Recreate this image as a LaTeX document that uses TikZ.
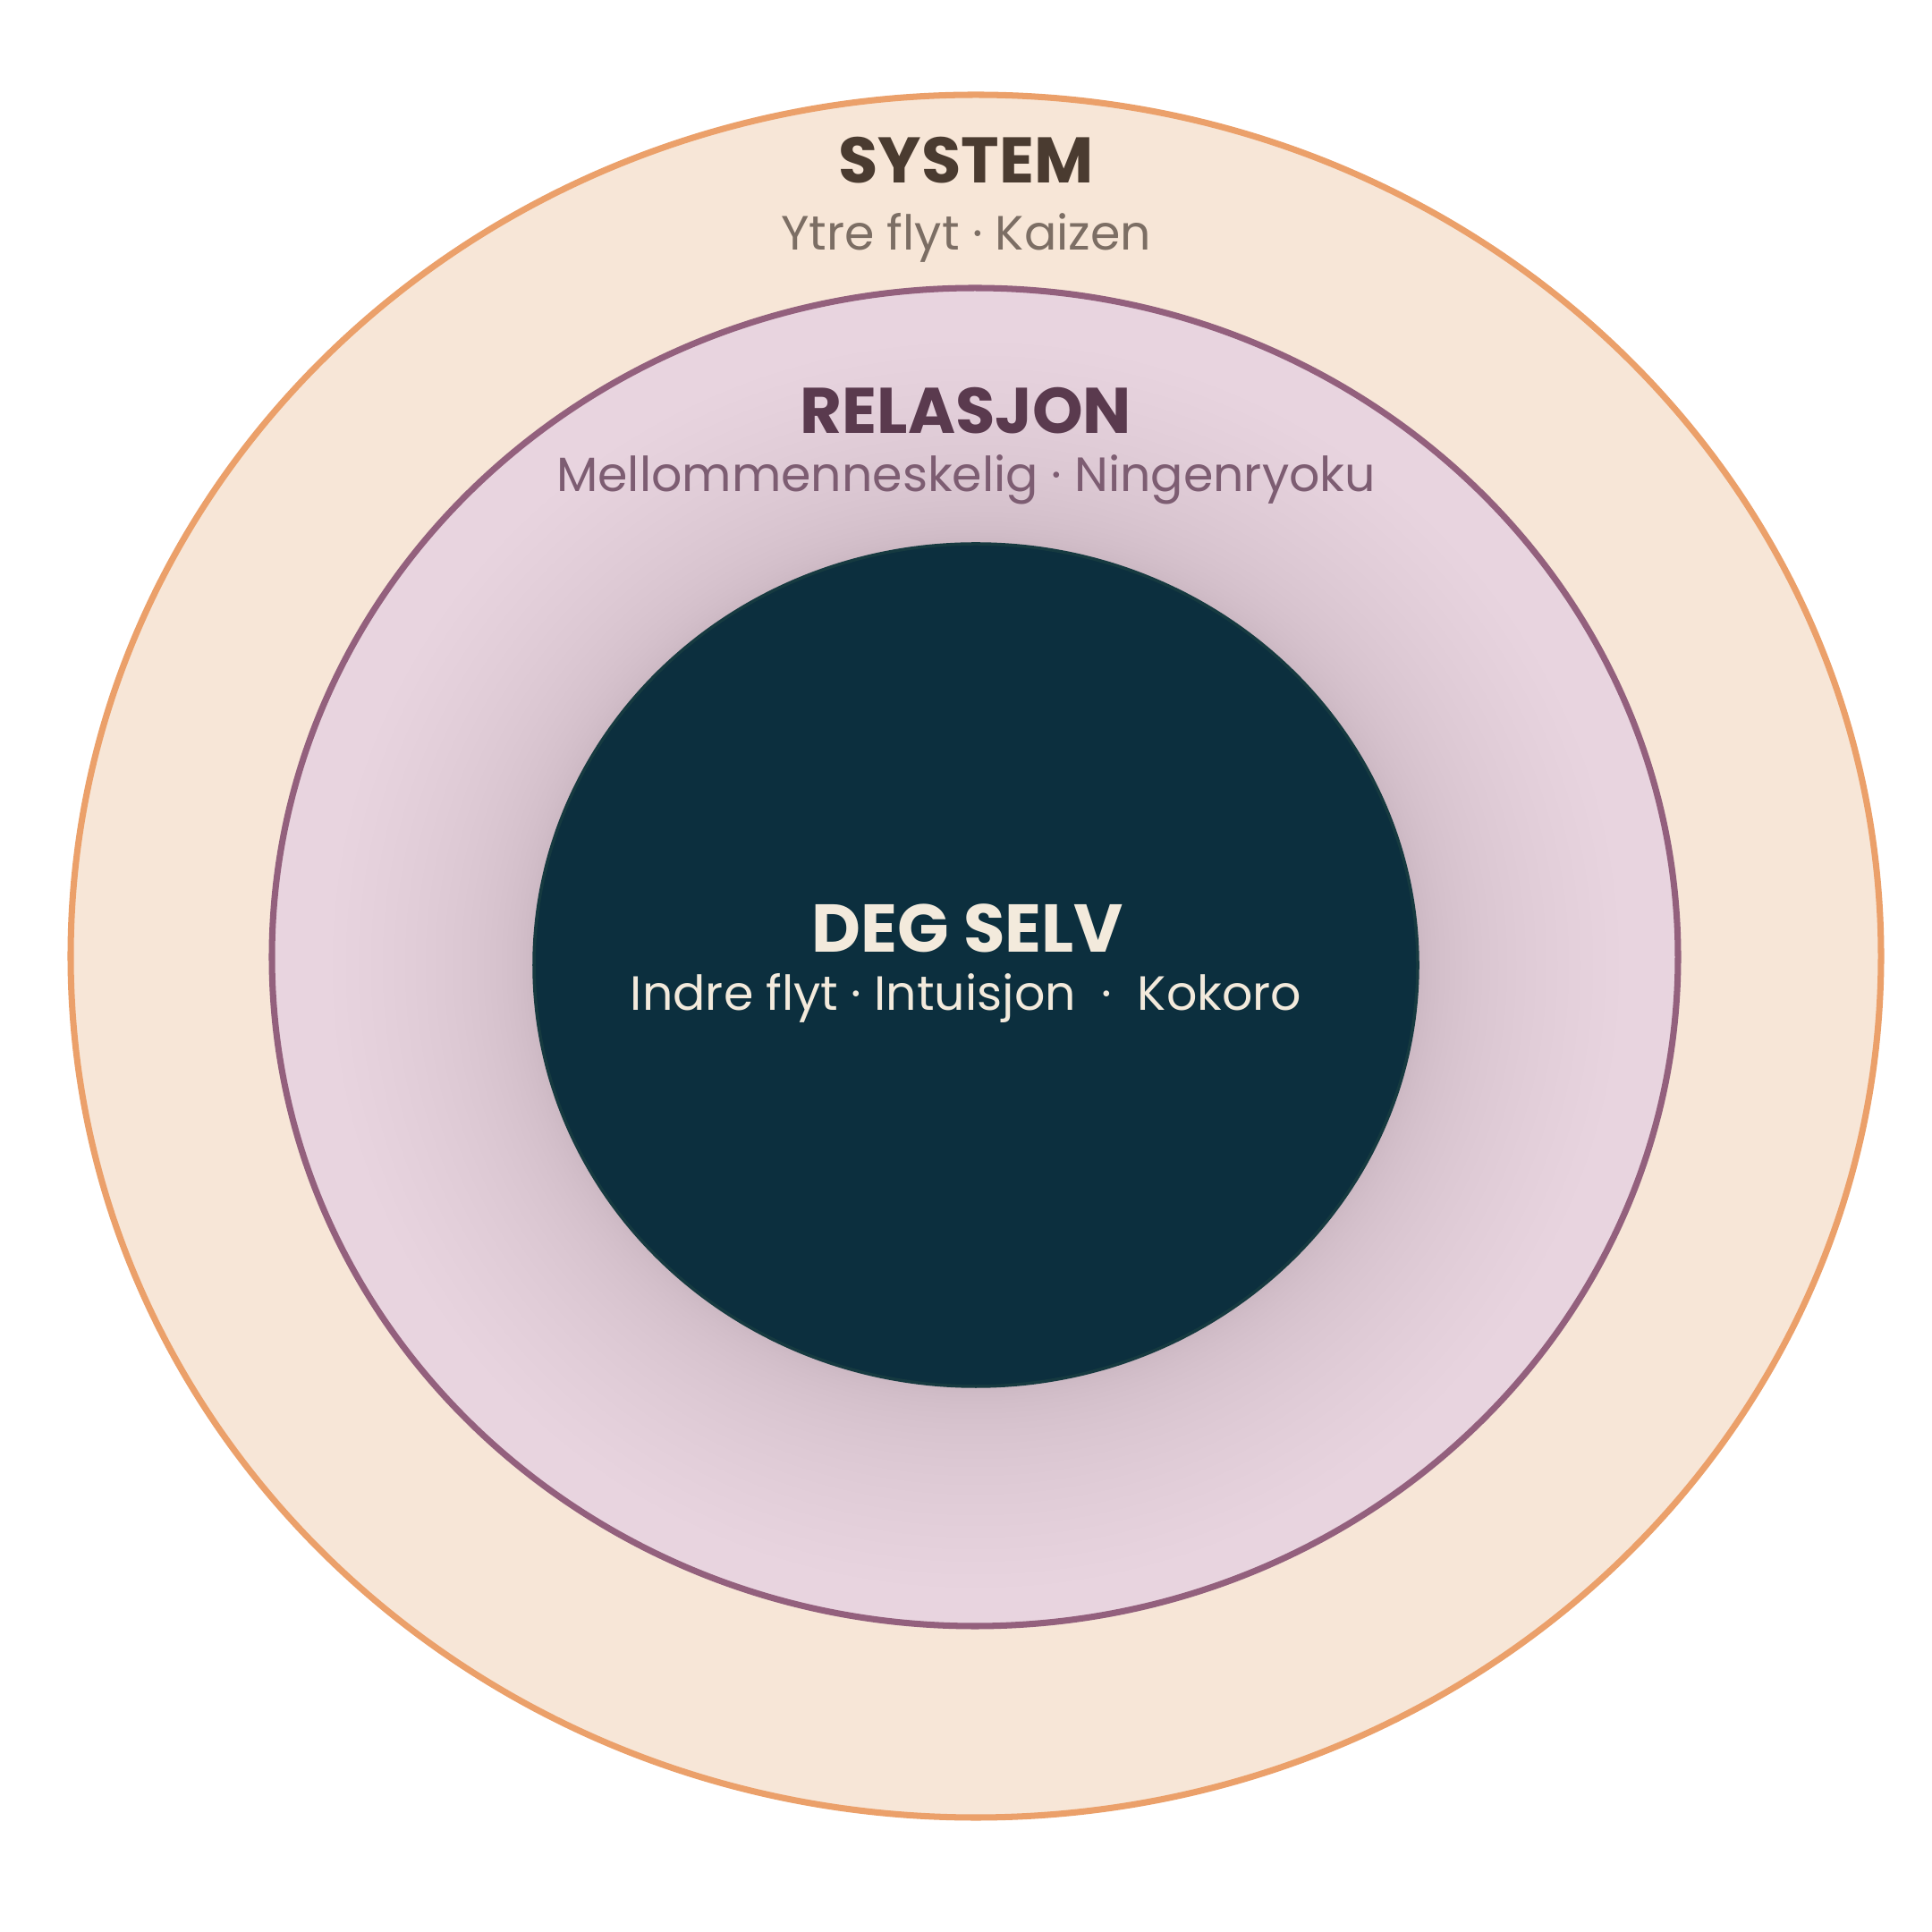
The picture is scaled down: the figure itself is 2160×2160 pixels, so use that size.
\documentclass[tikz,border=0pt]{standalone}
\usepackage{fontspec}
\setmainfont{Poppins}
\definecolor{sysfill}{HTML}{F7E6D7}
\definecolor{sysline}{HTML}{EBA06A}
\definecolor{relfill}{HTML}{E8D4DF}
\definecolor{relline}{HTML}{93607D}
\definecolor{selffill}{HTML}{0C2F3E}
\definecolor{selfline}{HTML}{163A40}
\definecolor{glow}{HTML}{9A90B4}
\definecolor{systext}{HTML}{4A3B30}
\definecolor{syssub}{HTML}{7C6E64}
\definecolor{reltext}{HTML}{5A3A4E}
\definecolor{relsub}{HTML}{7D5D72}
\definecolor{selftext}{HTML}{F3EADC}
\begin{document}
\begin{tikzpicture}[x=0.01cm,y=0.01cm,
  title/.style={font=\fontsize{20.5}{24}\selectfont\bfseries,anchor=base},
  subtitle/.style={font=\fontsize{15.3}{18}\selectfont,anchor=base}]
\useasboundingbox[fill=white] (0,0) rectangle (2160,2160);
\draw [line width=2pt,sysline,fill=sysfill] (1091,1091) ellipse [x radius=1012,y radius=963];
\draw [line width=2pt,relline,fill=relfill] (1090,1090) ellipse [x radius=786,y radius=748];
% glow round the centre
\begin{scope}
\clip (1090,1090) ellipse [x radius=783,y radius=745];
\foreach \i in {1,...,30}
  \fill [glow,opacity=0.012] (1091,1081) ellipse [x radius=494+0.25*\i*\i,y radius=471+0.25*\i*\i];
\end{scope}
\draw [line width=1pt,selfline,fill=selffill] (1091,1081) ellipse [x radius=494,y radius=471];
\node [title,text=systext] (system) at (1080,1955) {SYSTEM};
\node [subtitle,text=syssub] (systemsub) at (1080,1880) {Ytre flyt · Kaizen};
\node [title,text=reltext] (relasjon) at (1080,1675) {RELASJON};
\node [subtitle,text=relsub] (relasjonsub) at (1080,1610) {Mellommenneskelig · Ningenryoku};
\node [title,text=selftext,font=\fontsize{21.5}{24}\selectfont\bfseries] (degselv) at (1082,1095) {DEG SELV};
\node [subtitle,text=selftext] (degselvsub) at (1080,1030) {Indre flyt · Intuisjon \ · \ Kokoro};
\end{tikzpicture}
\end{document}
